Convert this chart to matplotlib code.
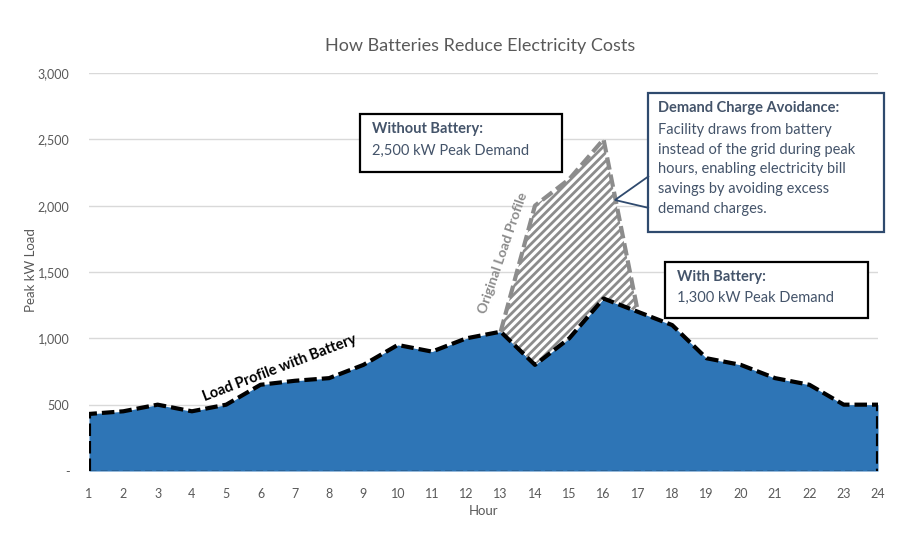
import numpy as np
import matplotlib
matplotlib.use("Agg")
import matplotlib.pyplot as plt
from matplotlib.patches import Rectangle, Polygon
from matplotlib.ticker import FuncFormatter

plt.rcParams['font.family'] = ['Lato', 'DejaVu Sans']
plt.rcParams['hatch.linewidth'] = 2.0

# data
hours = list(range(1, 25))
with_battery = [430, 450, 500, 450, 500, 650, 680, 700, 800, 950, 900, 1000,
                1050, 800, 1000, 1300, 1200, 1100, 850, 800, 700, 650, 500, 500]
orig_hours = [13, 14, 15, 16, 17]
original = [1050, 2000, 2200, 2500, 1200]

W, H = 918, 540
fig = plt.figure(figsize=(W / 100, H / 100), dpi=100)

def fx(px):
    return px / W

def fy(py):
    return 1 - py / H

ax = fig.add_axes([fx(89), fy(471), fx(878) - fx(89), fy(73) - fy(471)])

blue = "#2E75B6"
txt = "#595959"
navy = "#44546A"

ax.fill_between(hours, 0, with_battery, color=blue, lw=0, zorder=2)
# hatched savings area between original and battery profile
bat_sub = [with_battery[h - 1] for h in orig_hours]
ax.fill_between(orig_hours, bat_sub, original, facecolor="white",
                edgecolor="#8C8C8C", hatch="////", lw=0, zorder=3)
ax.plot(orig_hours, original, color="#8C8C8C", lw=3, ls=(0, (3, 1.2)), zorder=4)
ax.plot([1] + hours + [24], [0] + with_battery + [0], color="black", lw=3,
        ls=(0, (3, 1.2)), zorder=5, solid_capstyle="butt")
ax.plot([1, 24], [0, 0], color="#222222", lw=1, ls=(0, (5, 3)), zorder=5)

ax.set_xlim(1, 24)
ax.set_ylim(0, 3000)
ax.set_xticks(hours)
ax.set_yticks(range(0, 3001, 500))
ax.yaxis.set_major_formatter(FuncFormatter(lambda v, p: "-" if v == 0 else f"{int(v):,}"))
ax.grid(axis="y", color="#D9D9D9", lw=1, zorder=0)
ax.set_axisbelow(True)
for s in ax.spines.values():
    s.set_visible(False)
ax.tick_params(length=0, colors=txt, labelsize=9)
ax.tick_params(axis="x", pad=12)
ax.tick_params(axis="y", pad=14)

fig.text(fx(480), fy(46), "How Batteries Reduce Electricity Costs", ha="center",
         va="center", fontsize=13, color=txt)
fig.text(fx(483), fy(511), "Hour", ha="center", va="center", fontsize=9.5, color=txt)
fig.text(fx(31), fy(270), "Peak kW Load", ha="center", va="center", rotation=90,
         fontsize=9.5, color=txt)

# rotated line labels
fig.text(fx(503), fy(253), "Original Load Profile", ha="center", va="center",
         rotation=71, fontsize=10, color="#8C8C8C", fontweight="bold")
fig.text(fx(280), fy(368), "Load Profile with Battery", ha="center", va="center",
         rotation=21, fontsize=10.5, color="black", fontweight="bold")

def box(x0, y0, x1, y1, ec):
    fig.patches.append(Rectangle((fx(x0), fy(y1)), fx(x1) - fx(x0), fy(y0) - fy(y1),
                                 transform=fig.transFigure, facecolor="white",
                                 edgecolor=ec, lw=1.6, zorder=10))

box(360, 114, 562, 172, "black")
fig.text(fx(372), fy(129), "Without Battery:", fontsize=10.5, fontweight="bold",
         color=navy, va="center", zorder=11)
fig.text(fx(372), fy(151), "2,500 kW Peak Demand", fontsize=10.5,
         color=navy, va="center", zorder=11)

box(665, 262, 868, 318, "black")
fig.text(fx(677), fy(277), "With Battery:", fontsize=10.5, fontweight="bold",
         color=navy, va="center", zorder=11)
fig.text(fx(677), fy(298), "1,300 kW Peak Demand", fontsize=10.5,
         color=navy, va="center", zorder=11)

edge = "#2F4A6E"
box(648, 93, 884, 232, edge)
fig.patches.append(Polygon([(fx(649), fy(176)), (fx(615), fy(200)), (fx(649), fy(208))],
                           closed=False, transform=fig.transFigure, fill=False,
                           edgecolor=edge, lw=1.3, zorder=11))
fig.text(fx(658), fy(108), "Demand Charge Avoidance:", fontsize=10.5, fontweight="bold",
         color=navy, va="center", zorder=11)
body = ["Facility draws from battery", "instead of the grid during peak",
        "hours, enabling electricity bill", "savings by avoiding excess",
        "demand charges."]
for i, line in enumerate(body):
    fig.text(fx(658), fy(130 + i * 19.7), line, fontsize=10.5, color=navy,
             va="center", zorder=11)

fig.savefig("out.png", dpi=100)
